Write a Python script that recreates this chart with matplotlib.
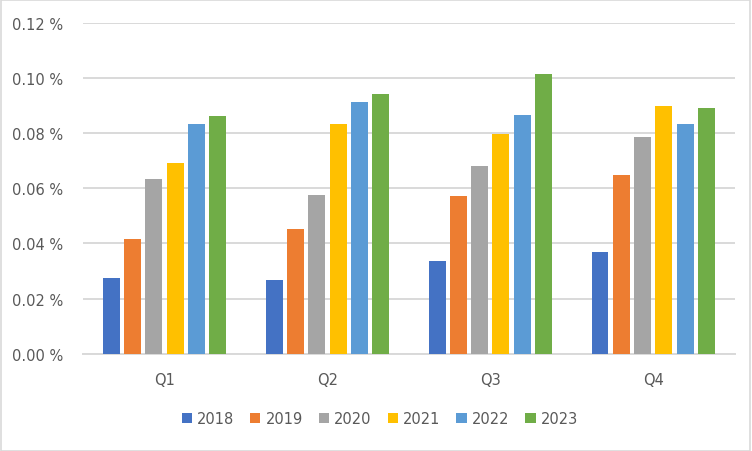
import numpy as np
import matplotlib.pyplot as plt
from matplotlib.patches import Rectangle
from matplotlib.ticker import FuncFormatter

# quarters and yearly series (values in %)
quarters = ['Q1', 'Q2', 'Q3', 'Q4']
years = ['2018', '2019', '2020', '2021', '2022', '2023']
v2018 = [0.0275, 0.0268, 0.0336, 0.0369]
v2019 = [0.0416, 0.0453, 0.0572, 0.0648]
v2020 = [0.0633, 0.0575, 0.0681, 0.0786]
v2021 = [0.0692, 0.0833, 0.0797, 0.0898]
v2022 = [0.0833, 0.0913, 0.0866, 0.0833]
v2023 = [0.0862, 0.0942, 0.1014, 0.0891]
series = [v2018, v2019, v2020, v2021, v2022, v2023]
colors = ['#4472C4', '#ED7D31', '#A5A5A5', '#FFC000', '#5B9BD5', '#70AD47']

text_col = '#595959'
grid_col = '#D9D9D9'

fig = plt.figure(figsize=(7.52, 4.52), dpi=100)
ax = fig.add_axes([0.1104, 0.2153, 0.8666, 0.7316])

x = np.arange(len(quarters))
pitch = 0.1307
width = 0.104
for i, (vals, c, yr) in enumerate(zip(series, colors, years)):
    off = (i - 2.5) * pitch
    ax.bar(x + off, vals, width=width, color=c, label=yr, zorder=3)

ax.set_xlim(-0.5, 3.5)
ax.set_ylim(0, 0.12)
ax.set_yticks(np.arange(0, 0.121, 0.02))
ax.yaxis.set_major_formatter(FuncFormatter(lambda v, p: f'{v:.2f} %'))
ax.set_xticks(x)
ax.set_xticklabels(quarters)
ax.grid(axis='y', color=grid_col, linewidth=1.4, zorder=0)
for s in ['top', 'right', 'left']:
    ax.spines[s].set_visible(False)
ax.spines['bottom'].set_color(grid_col)
ax.spines['bottom'].set_linewidth(1.4)
ax.tick_params(axis='both', length=0, colors=text_col, labelsize=10.5)
ax.tick_params(axis='y', pad=14)
ax.tick_params(axis='x', pad=13)

leg = ax.legend(loc='center', bbox_to_anchor=(0.505, 0.0708), bbox_transform=fig.transFigure,
                ncol=6, frameon=False, fontsize=10.5, handlelength=0.7, handleheight=0.7,
                handletextpad=0.35, columnspacing=1.1, borderaxespad=0)
for t in leg.get_texts():
    t.set_color(text_col)

# chart area border
fig.patches.append(Rectangle((0.001, 0.001), 0.997, 0.997, transform=fig.transFigure,
                             fill=False, edgecolor=grid_col, linewidth=1.2))

fig.savefig('out.png', dpi=100)
